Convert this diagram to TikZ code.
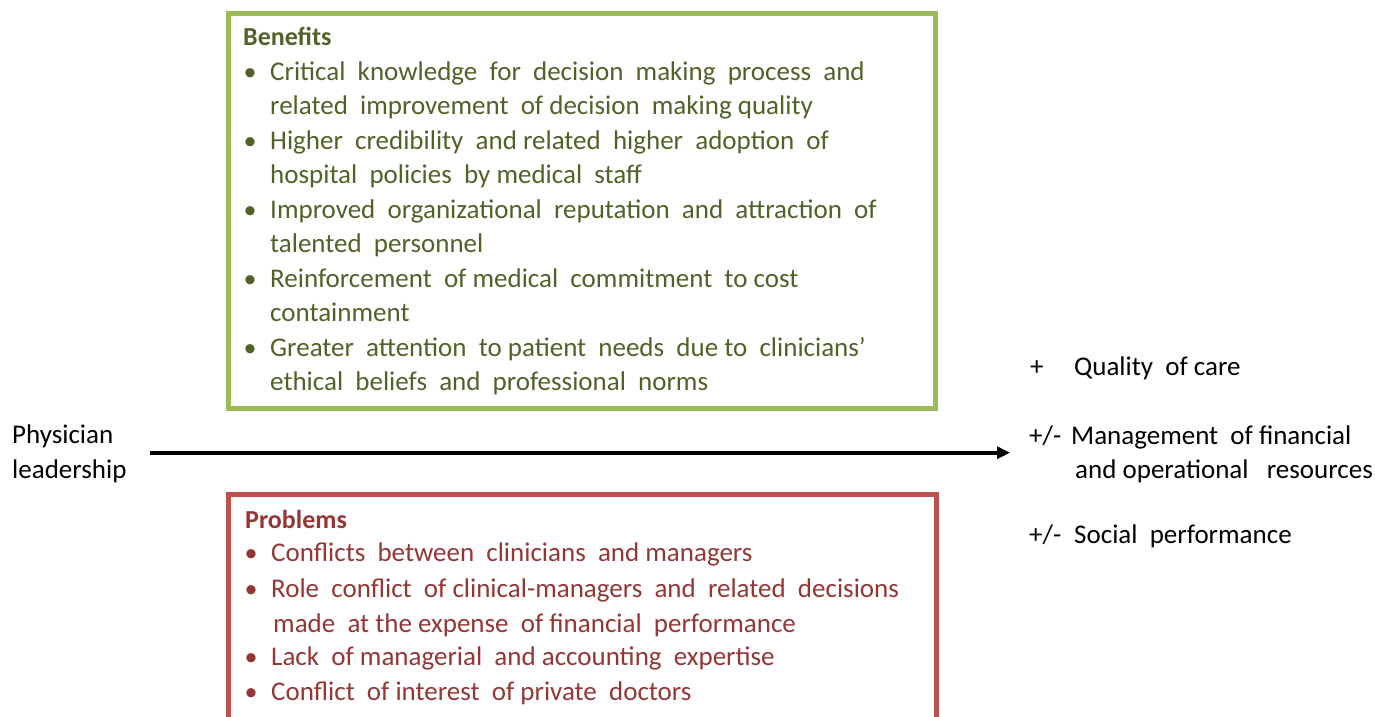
\documentclass[tikz,border=0pt]{standalone}
\usepackage{fontspec}
\setmainfont{Carlito}
\usetikzlibrary{arrows.meta}
\definecolor{benframe}{HTML}{9BBB59}
\definecolor{bentext}{HTML}{4F6228}
\definecolor{probframe}{HTML}{C0504D}
\definecolor{probtext}{HTML}{943634}
\tikzset{
  txt/.style={anchor=base west, inner sep=0pt, font=\fontsize{27}{32}\selectfont},
  head/.style={txt, font=\fontsize{26}{31}\selectfont\bfseries},
  bul/.style={anchor=base, inner sep=0pt, font=\fontsize{26}{31}\selectfont},
  frame/.style={line width=5pt},
  mainarrow/.style={line width=4pt, -{Triangle[length=13pt,width=12pt]}}
}
\begin{document}
\begin{tikzpicture}[x=1pt,y=-1pt]
\useasboundingbox (0,0) rectangle (1375,716);

% Benefits box
\draw[frame, benframe] (228.5,13.5) rectangle (935,408.5);
\begin{scope}[every node/.append style={text=bentext}]
\node[head] (bh) at (243,45) {Benefits};
\foreach \y/\n in {80/b1,149/b2,218/b3,287/b4,356/b5}
  \node[bul] (\n) at (250,\y) {\textbullet};
\node[txt] (b1a) at (270,80) {Critical\ \ knowledge\ \ for\ \ decision\ \ making\ \ process\ \ and};
\node[txt] (b1b) at (270,114.6) {related\ \ improvement\ \ of decision\ \ making\ quality};
\node[txt] (b2a) at (270,149) {Higher\ \ credibility\ \ and related\ \ higher\ \ adoption\ \ of};
\node[txt] (b2b) at (270,183.5) {hospital\ \ policies\ \ by medical\ \ staff};
\node[txt] (b3a) at (270,218) {Improved\ \ organizational\ \ reputation\ \ and\ \ attraction\ \ of};
\node[txt] (b3b) at (270,252.5) {talented\ \ personnel};
\node[txt] (b4a) at (270,287) {Reinforcement\ \ of medical\ \ commitment\ \ to\ cost};
\node[txt] (b4b) at (270,321.5) {containment};
\node[txt] (b5a) at (270,356) {Greater\ \ attention\ \ to\ patient\ \ needs\ \ due\ to\ \ clinicians’};
\node[txt] (b5b) at (270,390.5) {ethical\ \ beliefs\ \ and\ \ professional\ \ norms};
\end{scope}

% Problems box (runs past the lower edge)
\draw[frame, probframe] (228.5,740) -- (228.5,494.5) -- (936.5,494.5) -- (936.5,740);
\begin{scope}[every node/.append style={text=probtext}]
\node[head] (ph) at (245,528.3) {Problems};
\foreach \y/\n in {561.7/p1,597/p2,665/p3,700/p4}
  \node[bul] (\n) at (251,\y) {\textbullet};
\node[txt] (p1a) at (271,561.7) {Conflicts\ \ between\ \ clinicians\ \ and managers};
\node[txt] (p2a) at (271,597) {Role\ \ conflict\ \ of clinical-managers\ \ and\ \ related\ \ decisions};
\node[txt] (p2b) at (273,632.7) {made\ \ at the expense\ \ of financial\ \ performance};
\node[txt] (p3a) at (271,665) {Lack\ \ of managerial\ \ and accounting\ \ expertise};
\node[txt] (p4a) at (271,700) {Conflict\ \ of interest\ \ of private\ \ doctors};
\end{scope}

% Cause and outcomes
\node[txt] (src1) at (12,443) {Physician};
\node[txt] (src2) at (12,478) {leadership};

\node[txt] (o1s) at (1030,375) {+};
\node[txt] (o1) at (1074,375) {Quality\ \ of care};
\node[txt] (o2s) at (1029,444) {+/-};
\node[txt] (o2) at (1071,444) {Management\ \ of financial};
\node[txt] (o2b) at (1075,478) {and operational\ \ \ resources};
\node[txt] (o3s) at (1029,543) {+/-};
\node[txt] (o3) at (1074,543) {Social\ \ performance};

\coordinate (a0) at (150,452.7);
\coordinate (a1) at (1010,452.7);
\draw[mainarrow] (a0) -- (a1);
\end{tikzpicture}
\end{document}
